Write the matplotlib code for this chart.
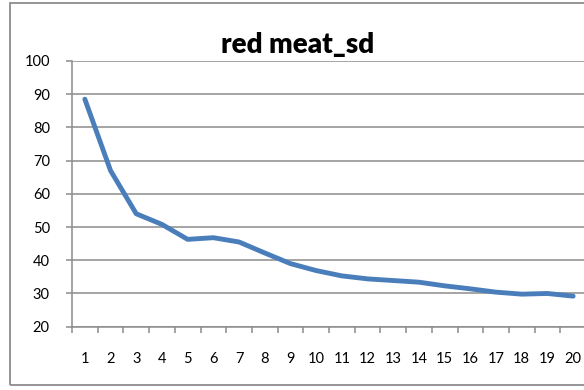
import matplotlib
matplotlib.use("Agg")
import matplotlib.pyplot as plt
from matplotlib.patches import Rectangle
import numpy as np

# sd of red meat intake per group
groups = list(range(1, 21))
sd_values = [88.5, 67.0, 54.0, 50.8, 46.3, 46.8, 45.5, 42.2, 39.0, 36.9,
             35.3, 34.4, 33.9, 33.4, 32.3, 31.4, 30.4, 29.8, 30.0, 29.2]
y_ticks = [20, 30, 40, 50, 60, 70, 80, 90, 100]

plt.rcParams['font.family'] = ['Lato', 'DejaVu Sans']

W, H = 584, 390
fig = plt.figure(figsize=(W / 100, H / 100), dpi=100)

# chart frame
fig.patches.append(Rectangle((10 / W, 1 - 385 / H), 576 / W, 382 / H,
                             transform=fig.transFigure, fill=False,
                             edgecolor='#8c8c8c', linewidth=1.3))

ax = fig.add_axes([72 / W, 1 - 326.7 / H, 514 / W, (326.7 - 61) / H])
ax.plot(groups, sd_values, color='#4a7ebb', linewidth=3.5,
        solid_joinstyle='round', solid_capstyle='round', zorder=3)

ax.set_xlim(0.5, 20.5)
ax.set_ylim(20, 100)
ax.set_yticks(y_ticks)
ax.yaxis.grid(True, color='#8c8c8c', linewidth=1.1)
ax.set_axisbelow(True)

ax.set_xticks(groups)
ax.set_xticks(np.arange(0.5, 21, 1), minor=True)
ax.tick_params(axis='x', which='major', length=0, pad=18, labelsize=10.5)
ax.tick_params(axis='x', which='minor', length=4, width=1.1, color='#8c8c8c')
ax.tick_params(axis='y', length=4, width=1.1, color='#8c8c8c', pad=12, labelsize=10.5)

for side in ('top', 'right'):
    ax.spines[side].set_visible(False)
for side in ('left', 'bottom'):
    ax.spines[side].set_color('#8c8c8c')
    ax.spines[side].set_linewidth(1.1)

fig.text(297.5 / W, 1 - 53 / H, 'red meat_sd', ha='center', va='baseline',
         fontsize=20, fontweight='heavy')

fig.savefig('out.png', dpi=100)
